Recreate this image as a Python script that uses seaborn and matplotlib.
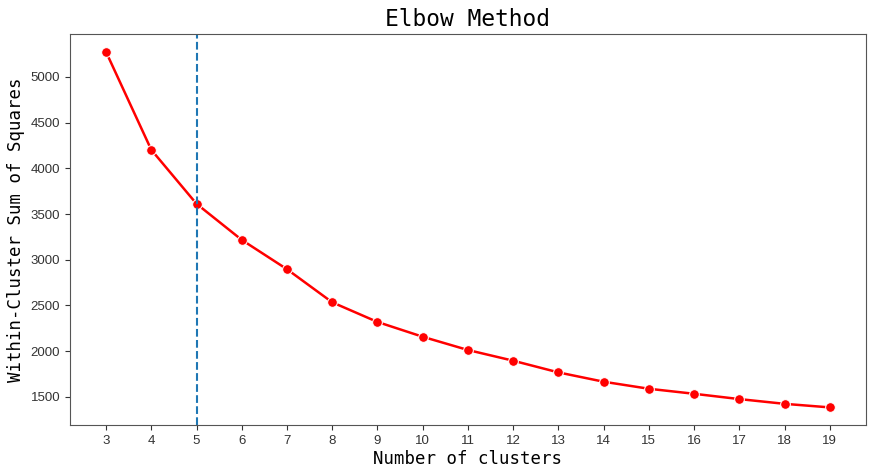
import matplotlib
matplotlib.use('Agg')
import matplotlib.pyplot as plt
import seaborn as sns
import pandas as pd

# Elbow curve values
clusters = [3, 4, 5, 6, 7, 8, 9, 10, 11, 12, 13, 14, 15, 16, 17, 18, 19]
wcss = [5274, 4203, 3612, 3217, 2896, 2534, 2319, 2157, 2012, 1895,
        1767, 1665, 1588, 1533, 1475, 1423, 1384]
best_k = 5

df = pd.DataFrame({'k': clusters, 'wcss': wcss})

sns.set_style('ticks')
plt.rcParams['font.family'] = ['Liberation Sans', 'DejaVu Sans']

fig, ax = plt.subplots(figsize=(8.73, 4.74), dpi=100)
fig.subplots_adjust(left=0.080, right=0.992, bottom=0.103, top=0.928)

sns.lineplot(x='k', y='wcss', data=df, marker='o', color='red',
             markersize=7, linewidth=1.8, ax=ax)
ax.axvline(best_k, color='#1f77b4', linestyle='--', linewidth=1.5)

ax.set_xticks(clusters)
ax.tick_params(labelsize=9.5, colors='#333333')
for s in ax.spines.values():
    s.set_color('#555555')

mono = ['DejaVu Sans Mono', 'Liberation Mono']
ax.set_title('Elbow Method', fontsize=16.5, family=mono, color='black', pad=6)
ax.set_xlabel('Number of clusters', fontsize=12.5, family=mono,
              color='black', labelpad=2)
ax.set_ylabel('Within-Cluster Sum of Squares', fontsize=12.5, family=mono,
              color='black')

plt.savefig('out.png')
